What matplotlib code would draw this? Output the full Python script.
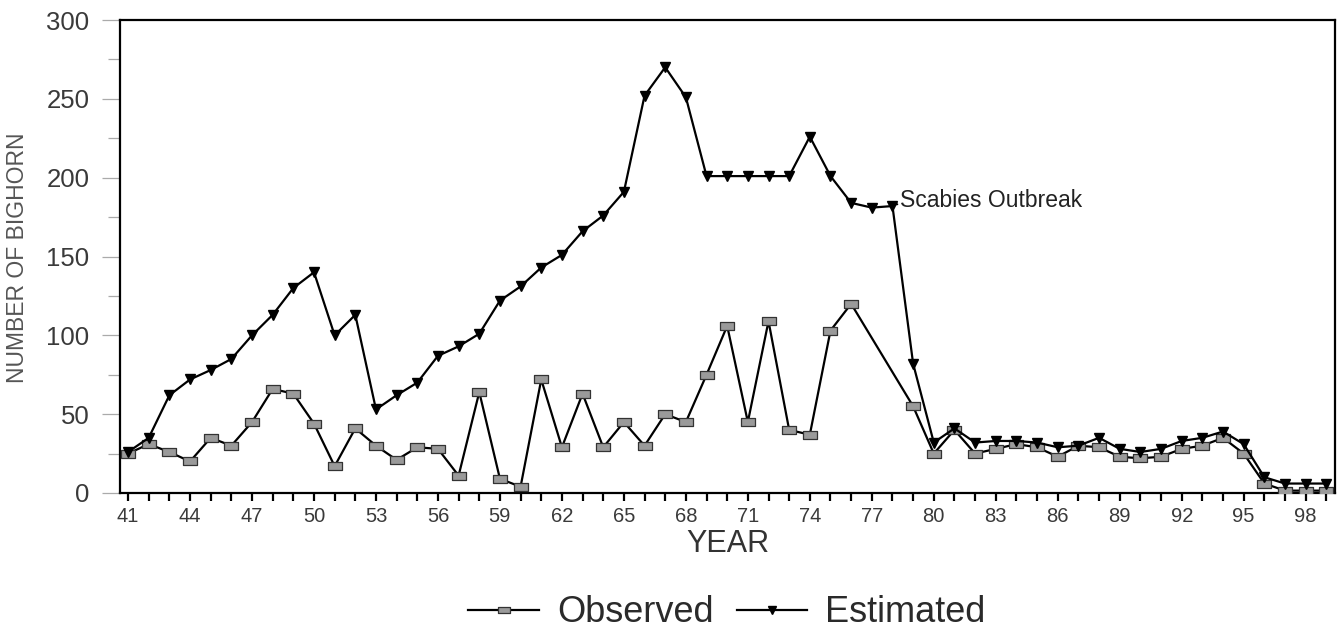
import numpy as np
import matplotlib
matplotlib.use("Agg")
import matplotlib.pyplot as plt
from matplotlib.path import Path
from matplotlib.ticker import MultipleLocator, FixedLocator

plt.rcParams["font.family"] = ["Liberation Sans", "DejaVu Sans"]

years = list(range(41, 100))

estimated = [26, 35, 62, 72, 78, 85, 100, 113, 130, 140,
             100, 113, 53, 62, 70, 87, 93, 101, 122, 131,
             143, 151, 166, 176, 191, 252, 270, 251, 201, 201,
             201, 201, 201, 226, 201, 184, 181, 182, 82, 32,
             41, 32, 33, 33, 32, 29, 30, 35, 28, 26,
             28, 33, 35, 39, 31, 10, 6, 6, 6]

# no counts for 77 and 78, the line just joins 76 to 79
observed = [25, 31, 26, 20, 35, 30, 45, 66, 63, 44,
            17, 41, 30, 21, 29, 28, 11, 64, 9, 4,
            72, 29, 63, 29, 45, 30, 50, 45, 75, 106,
            45, 109, 40, 37, 103, 120, np.nan, np.nan, 55, 25,
            40, 25, 28, 31, 29, 23, 30, 29, 23, 22,
            23, 28, 30, 35, 25, 6, 1.5, 1.5, 1.5]

x_labels = list(range(41, 100, 3))
y_major = [0, 50, 100, 150, 200, 250, 300]

# flat rectangle marker for the observed series
rect = Path([(-1, -0.55), (1, -0.55), (1, 0.55), (-1, 0.55), (-1, -0.55)],
            [Path.MOVETO, Path.LINETO, Path.LINETO, Path.LINETO, Path.CLOSEPOLY])

W, H = 1337, 633
fig = plt.figure(figsize=(W / 100, H / 100), dpi=100, facecolor="white")
ax = fig.add_axes([120 / W, 140 / H, 1215 / W, 473 / H])

yrs = np.array(years)
obs = np.array(observed, dtype=float)
ok = ~np.isnan(obs)

ax.plot(yrs[ok], obs[ok], color="black", lw=1.6, marker=rect, ms=10,
        mfc="#9a9a9a", mec="#333333", mew=0.9, label="Observed", zorder=3)
ax.plot(yrs, estimated, color="black", lw=1.6, marker="v", ms=7.5,
        mfc="black", mec="black", label="Estimated", zorder=4)

ax.annotate("Scabies Outbreak", xy=(78, 183), xytext=(78.37, 185.5),
            fontsize=16.5, color="#222222", va="center", ha="left",
            arrowprops=dict(arrowstyle="-", color="black", lw=1.4,
                            shrinkA=0, shrinkB=0))

ax.set_xlim(40.61, 99.42)
ax.set_ylim(0, 300)

for s in ax.spines.values():
    s.set_linewidth(1.6)
    s.set_color("black")

ax.yaxis.set_major_locator(FixedLocator(y_major))
ax.yaxis.set_minor_locator(MultipleLocator(25))
ax.tick_params(axis="y", which="major", direction="out", length=13, width=0.9,
               color="#aaaaaa", pad=9, labelsize=18.5, labelcolor="#3a3a3a")
ax.tick_params(axis="y", which="minor", direction="out", length=8.5, width=0.9,
               color="#aaaaaa")

ax.xaxis.set_major_locator(FixedLocator(x_labels))
ax.xaxis.set_minor_locator(FixedLocator(years))
ax.set_xticklabels([str(v) for v in x_labels])
ax.tick_params(axis="x", which="both", direction="out", length=6, width=1.6,
               color="black")
ax.tick_params(axis="x", which="major", pad=4, labelsize=14.5,
               labelcolor="#3a3a3a")

ax.set_xlabel("YEAR", fontsize=22, color="#333333")
ax.xaxis.set_label_coords(0.5, -(544 - 493) / 473)
ax.xaxis.label.set_va("center")
ax.set_ylabel("NUMBER OF BIGHORN", fontsize=16.5, color="#555555")
ax.yaxis.set_label_coords(-(120 - 18) / 1215, (493 - 258) / 473)
ax.yaxis.label.set_va("center")

fig.legend(loc="center", bbox_to_anchor=(727 / W, 1 - 613 / H), ncol=2,
           frameon=False, fontsize=26, handlelength=1.95, handletextpad=0.5,
           columnspacing=0.65, markerscale=0.8, labelcolor="#2a2a2a")

fig.savefig("out.png", dpi=100, facecolor="white")
